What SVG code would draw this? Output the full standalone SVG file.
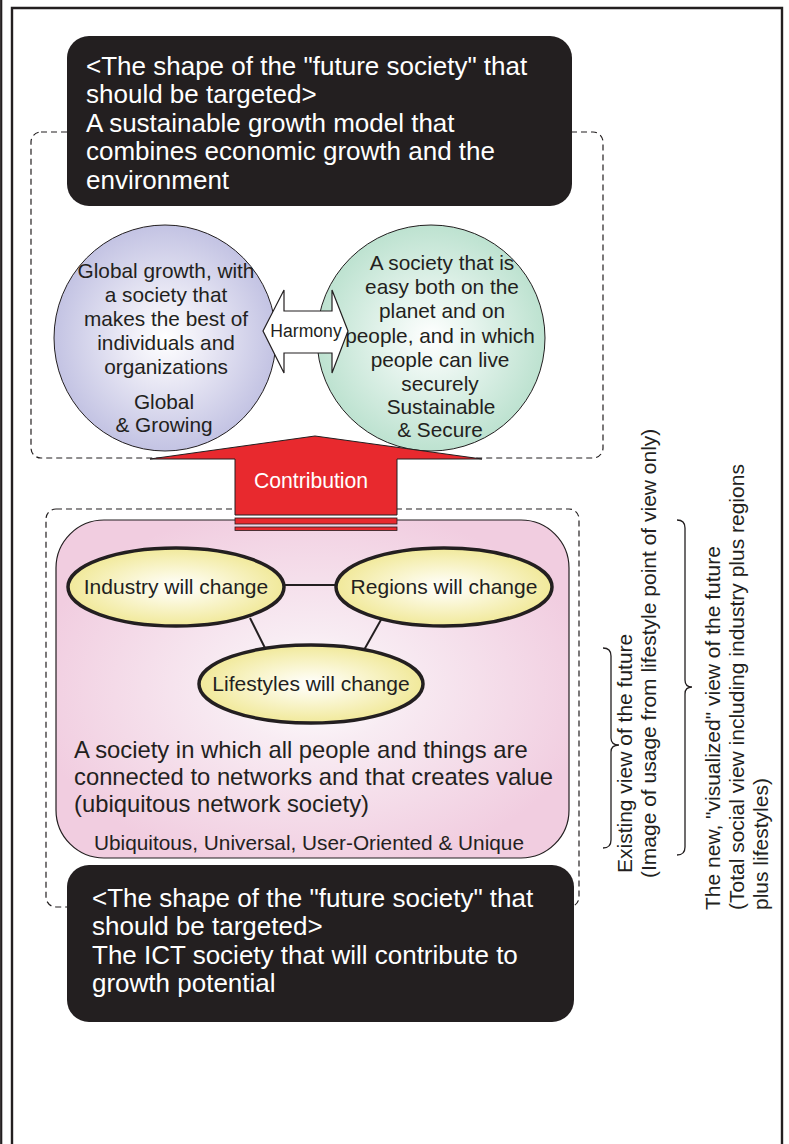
<svg xmlns="http://www.w3.org/2000/svg" width="789" height="1144" viewBox="0 0 789 1144">
<style>
text{font-family:"Liberation Sans",Arial,Helvetica,sans-serif;fill:#231f20}
.wt{fill:#ffffff;font-size:26px}
.ct{font-size:20.8px;text-anchor:middle}
.el{font-size:21px;text-anchor:middle}
.bd{font-size:23.8px}
.rt{font-size:21px}
.dash{fill:none;stroke:#231f20;stroke-width:1.2;stroke-dasharray:6 4}
.blk{fill:#231f20}
.yel{fill:url(#gYel);stroke:#231f20;stroke-width:3.5}
.ln{stroke:#231f20;stroke-width:2;fill:none}
.br{stroke:#231f20;stroke-width:1.3;fill:none}
</style>
<defs>
<radialGradient id="gPur" cx="50%" cy="50%" r="50%">
<stop offset="0" stop-color="#ffffff"/><stop offset="0.35" stop-color="#ecebf6"/><stop offset="1" stop-color="#c3c3e3"/>
</radialGradient>
<radialGradient id="gGrn" cx="50%" cy="50%" r="50%">
<stop offset="0" stop-color="#ffffff"/><stop offset="0.35" stop-color="#e8f5ef"/><stop offset="1" stop-color="#bde2d0"/>
</radialGradient>
<radialGradient id="gPink" cx="50%" cy="50%" r="55%">
<stop offset="0" stop-color="#ffffff"/><stop offset="0.3" stop-color="#f8ecf3"/><stop offset="1" stop-color="#f1cde0"/>
</radialGradient>
<radialGradient id="gYel" cx="50%" cy="50%" r="50%">
<stop offset="0" stop-color="#ffffff"/><stop offset="0.35" stop-color="#fbf8dc"/><stop offset="1" stop-color="#f1e99a"/>
</radialGradient>
</defs>
<rect width="789" height="1144" fill="#ffffff"/>
<g id="frame">
<line x1="1.2" y1="0" x2="1.2" y2="1144" stroke="#231f20" stroke-width="2.2"/>
<path d="M12,1144 V8 H782 V1144" fill="none" stroke="#231f20" stroke-width="2.4"/>
</g>
<g id="group-top">
<rect class="dash" x="31" y="132" width="572" height="326" rx="10"/>
</g>
<g id="group-bottom">
<rect class="dash" x="46" y="509" width="533" height="398" rx="10"/>
</g>
<g id="global-growing">
<ellipse cx="165" cy="338" rx="111" ry="113" fill="url(#gPur)" stroke="#231f20" stroke-width="1"/>
<text class="ct" x="166" y="278">Global growth, with</text>
<text class="ct" x="166" y="302">a society that</text>
<text class="ct" x="166" y="326">makes the best of</text>
<text class="ct" x="166" y="350">individuals and</text>
<text class="ct" x="166" y="374">organizations</text>
<text class="ct" x="164" y="409">Global</text>
<text class="ct" x="164" y="432">&amp; Growing</text>
</g>
<g id="sustainable-secure">
<ellipse cx="431" cy="338" rx="114" ry="113" fill="url(#gGrn)" stroke="#231f20" stroke-width="1"/>
<text class="ct" x="442" y="270">A society that is</text>
<text class="ct" x="442" y="294">easy both on the</text>
<text class="ct" x="442" y="318">planet and on</text>
<text class="ct" x="440" y="343">people, and in which</text>
<text class="ct" x="440" y="367">people can live</text>
<text class="ct" x="440" y="391">securely</text>
<text class="ct" x="441" y="414">Sustainable</text>
<text class="ct" x="440" y="437">&amp; Secure</text>
</g>
<g id="ubiquitous-society">
<rect x="56" y="520" width="513" height="338" rx="48" fill="url(#gPink)" stroke="#231f20" stroke-width="1.2"/>
<text class="bd" x="74" y="758">A society in which all people and things are</text>
<text class="bd" x="74" y="785">connected to networks and that creates value</text>
<text class="bd" x="74" y="812">(ubiquitous network society)</text>
<text x="309" y="850" style="font-size:20.8px;text-anchor:middle">Ubiquitous, Universal, User-Oriented &amp; Unique</text>
</g>
<g id="connectors">
<line class="ln" x1="284" y1="585" x2="338" y2="585"/>
<line class="ln" x1="250" y1="618" x2="266" y2="650"/>
<line class="ln" x1="382" y1="618" x2="364" y2="650"/>
<path d="M263,331 L284,290 L284,311 L332,311 L332,290 L348,331 L332,373 L332,353 L284,353 L284,373 Z" fill="#ffffff" stroke="#231f20" stroke-width="1.2"/>
<path d="M315,436 L482,459 L397,459 L397,515 L235,515 L235,459 L150,459 Z" fill="#e8292e" stroke="#231f20" stroke-width="1"/>
<rect x="235" y="518" width="162" height="6" fill="#e8292e" stroke="#231f20" stroke-width="0.8"/>
<rect x="235" y="527" width="162" height="3.5" fill="#e8292e" stroke="#231f20" stroke-width="0.8"/>
</g>
<g id="harmony">
<text x="306" y="337" style="font-size:17.6px;text-anchor:middle">Harmony</text>
</g>
<g id="contribution">
<text x="311" y="488" style="font-size:21.2px;text-anchor:middle;fill:#ffffff">Contribution</text>
</g>
<g id="industry">
<ellipse class="yel" cx="176" cy="587" rx="108" ry="39"/>
<text class="el" x="176" y="594">Industry will change</text>
</g>
<g id="regions">
<ellipse class="yel" cx="444" cy="587" rx="108" ry="39"/>
<text class="el" x="444" y="594">Regions will change</text>
</g>
<g id="lifestyles">
<ellipse class="yel" cx="311" cy="684" rx="112" ry="39"/>
<text class="el" x="311" y="691">Lifestyles will change</text>
</g>
<g id="target-top">
<rect class="blk" x="67" y="36" width="505" height="170" rx="22"/>
<text class="wt" x="86" y="75">&lt;The shape of the "future society" that</text>
<text class="wt" x="86" y="103">should be targeted&gt;</text>
<text class="wt" x="86" y="132">A sustainable growth model that</text>
<text class="wt" x="86" y="160">combines economic growth and the</text>
<text class="wt" x="86" y="189">environment</text>
</g>
<g id="target-bottom">
<rect class="blk" x="67" y="865" width="507" height="157" rx="22"/>
<text class="wt" x="92" y="907">&lt;The shape of the "future society" that</text>
<text class="wt" x="92" y="935">should be targeted&gt;</text>
<text class="wt" x="92" y="964">The ICT society that will contribute to</text>
<text class="wt" x="92" y="992">growth potential</text>
</g>
<g id="existing-view">
<path class="br" d="M603,648 Q611,648 611,656 L611,738 Q611,745 619,745 Q611,745 611,752 L611,840 Q611,848 603,848"/>
<text class="rt" transform="translate(632,873) rotate(-90)">Existing view of the future</text>
<text class="rt" transform="translate(656,878) rotate(-90)">(Image of usage from lifestyle point of view only)</text>
</g>
<g id="new-view">
<path class="br" d="M677,520 Q685,520 685,528 L685,680 Q685,687 692,687 Q685,687 685,694 L685,847 Q685,855 677,855"/>
<text class="rt" transform="translate(720,910) rotate(-90)">The new, "visualized" view of the future</text>
<text class="rt" transform="translate(744,910) rotate(-90)">(Total social view including industry plus regions</text>
<text class="rt" transform="translate(768,910) rotate(-90)">plus lifestyles)</text>
</g>
</svg>
